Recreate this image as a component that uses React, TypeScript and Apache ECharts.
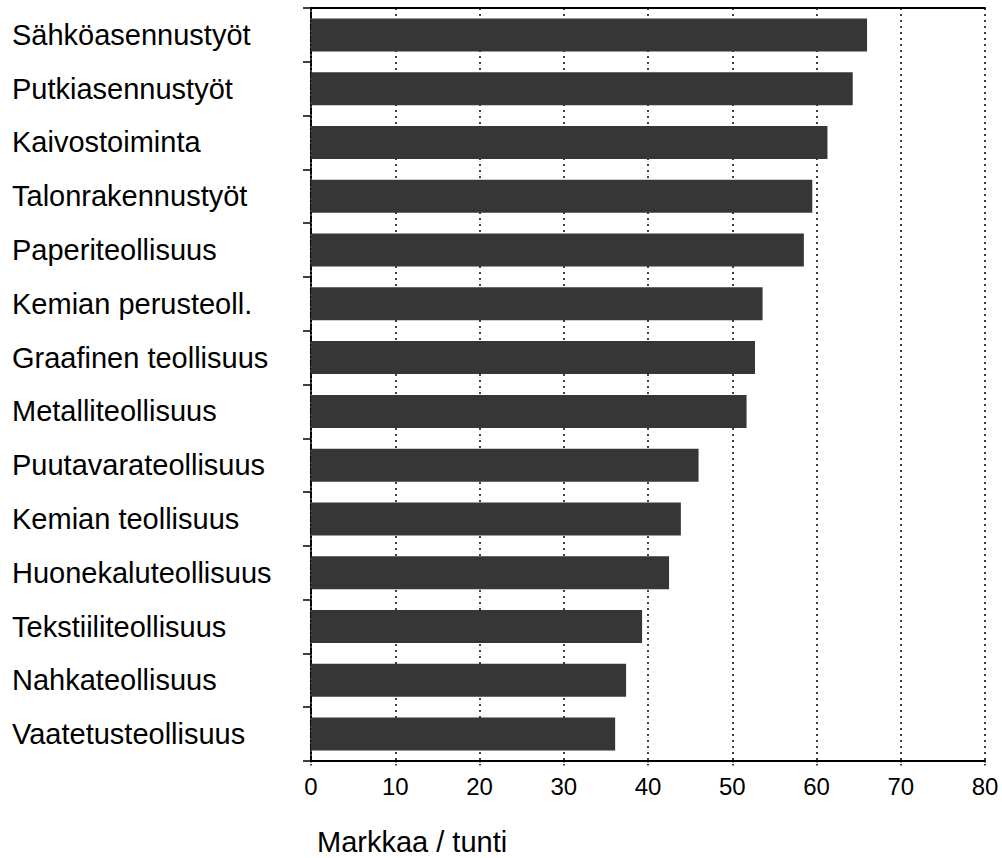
import React, { useEffect, useRef } from "react";
import * as echarts from "echarts";

const categories = [
  "Sähköasennustyöt",
  "Putkiasennustyöt",
  "Kaivostoiminta",
  "Talonrakennustyöt",
  "Paperiteollisuus",
  "Kemian perusteoll.",
  "Graafinen teollisuus",
  "Metalliteollisuus",
  "Puutavarateollisuus",
  "Kemian teollisuus",
  "Huonekaluteollisuus",
  "Tekstiiliteollisuus",
  "Nahkateollisuus",
  "Vaatetusteollisuus",
];

const values = [66.0, 64.3, 61.3, 59.5, 58.5, 53.6, 52.7, 51.7, 46.0, 43.9, 42.5, 39.3, 37.4, 36.1];

const xTicks = [0, 10, 20, 30, 40, 50, 60, 70, 80];
const axisTitle = "Markkaa / tunti";

export default function App() {
  const ref = useRef<HTMLDivElement>(null);
  useEffect(() => {
    document.body.style.margin = "0";
    document.body.style.overflow = "hidden";
    if (!ref.current) return;
    const chart = echarts.init(ref.current, null, { renderer: "svg" });
    const font = "'Liberation Sans', Arial, Helvetica, sans-serif";
    chart.setOption({
      animation: false,
      backgroundColor: "#ffffff",
      grid: { left: 311, right: 17, top: 8, bottom: 97, containLabel: false },
      xAxis: [
        {
          type: "value",
          min: xTicks[0],
          max: xTicks[xTicks.length - 1],
          interval: 10,
          position: "bottom",
          axisLine: { show: true, lineStyle: { color: "#000", width: 2 } },
          axisTick: { show: true, length: 5, lineStyle: { color: "#000", width: 1.5, type: "dotted" } },
          axisLabel: { color: "#000", fontSize: 24, fontFamily: font, margin: 13 },
          splitLine: { show: true, lineStyle: { color: "#000", width: 1.5, type: [2, 4] } },
        },
        {
          type: "value",
          min: xTicks[0],
          max: xTicks[xTicks.length - 1],
          interval: 10,
          position: "top",
          axisLine: { show: true, lineStyle: { color: "#000", width: 2 } },
          axisTick: { show: false },
          axisLabel: { show: false },
          splitLine: { show: false },
        },
      ],
      yAxis: {
        type: "category",
        inverse: true,
        data: categories,
        axisLine: { show: true, lineStyle: { color: "#000", width: 2, type: [2, 2] } },
        axisTick: { show: true, length: 8, lineStyle: { color: "#000", width: 1.5 } },
        axisLabel: {
          color: "#000",
          fontSize: 29,
          fontFamily: font,
          align: "left",
          margin: 299,
        },
        splitLine: { show: false },
      },
      series: [
        {
          type: "bar",
          data: values,
          barWidth: 33,
          itemStyle: { color: "#363636" },
          xAxisIndex: 0,
        },
      ],
      graphic: [
        {
          type: "text",
          left: 317,
          top: 827,
          style: { text: axisTitle, fontSize: 29, fontFamily: font, fill: "#000" },
        },
      ],
    });
    return () => chart.dispose();
  }, []);
  return (
    <div
      ref={ref}
      style={{ position: "fixed", left: 0, top: 0, width: 1002, height: 858 }}
    />
  );
}
